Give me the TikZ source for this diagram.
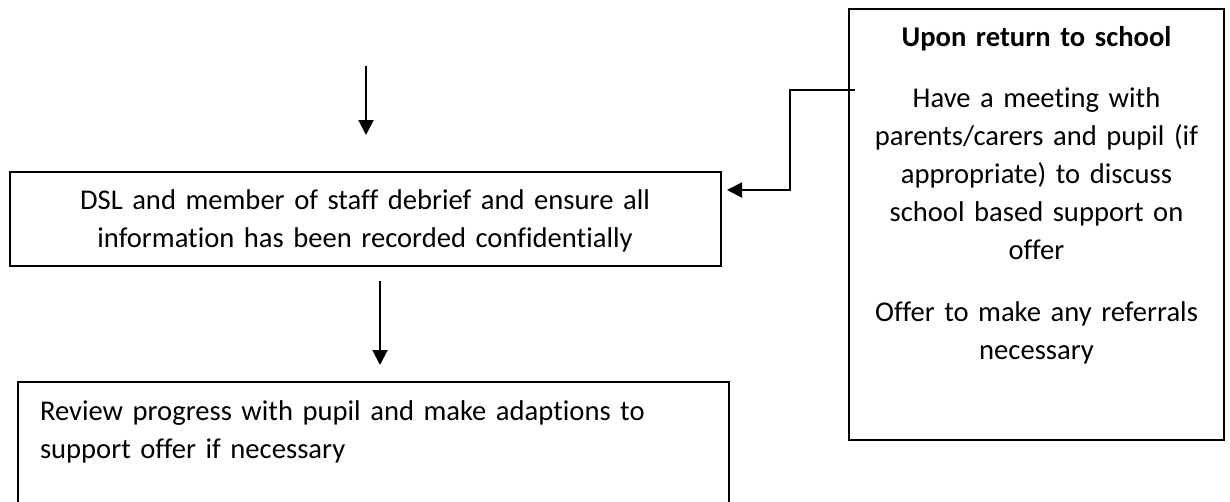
\documentclass[tikz,border=0pt]{standalone}
\usepackage{fontspec}
\setmainfont{Carlito}[Ligatures=NoCommon,WordSpace=0.8]
\usetikzlibrary{arrows.meta}
\begin{document}
\begin{tikzpicture}[x=1pt,y=-1pt,
  frame/.style={draw=black,line width=2.4pt,inner sep=0pt,outer sep=0pt},
  txt/.style={inner sep=0pt,outer sep=0pt,font=\fontsize{28.6}{38}\selectfont},
  arr/.style={draw=black,line width=2pt,-{Triangle[length=15pt,width=15pt]}}]
\clip (0,0) rectangle (1230,501);
\fill[white] (0,0) rectangle (1230,501);
% frames
\node[frame,minimum width=711pt,minimum height=94pt] (box1) at (365.5,219) {};
\node[frame,minimum width=711pt,minimum height=160pt] (box2) at (373.5,462) {};
\node[frame,minimum width=375pt,minimum height=431pt] (rbox) at (1036.5,224.5) {};
% texts
\node[txt,text width=700pt,align=center,anchor=base] (t1) at (365,209)
  {DSL and member of staff debrief and ensure all\\information has been recorded confidentially};
\node[txt,text width=680pt,align=left,anchor=base west] (t2) at (40,420)
  {Review progress with pupil and make adaptions to\\support offer if necessary};
\node[txt,text width=370pt,align=center,anchor=base] (t3) at (1036.5,46)
  {\textbf{Upon return to school}\\[23pt]
   Have a meeting with\\parents/carers and pupil (if\\appropriate) to discuss\\school based support on\\offer\\[24pt]
   Offer to make any referrals\\necessary};
% connectors
\coordinate (a0) at (366,66);
\coordinate (a1) at (366,135);
\draw[arr] (a0) -- (a1);
\coordinate (b0) at (380,281);
\coordinate (b1) at (380,365);
\draw[arr] (b0) -- (b1);
\coordinate (c0) at (855,90);
\coordinate (c1) at (727,190);
\draw[arr] (c0) -- (790,90) |- (c1);
\end{tikzpicture}
\end{document}
